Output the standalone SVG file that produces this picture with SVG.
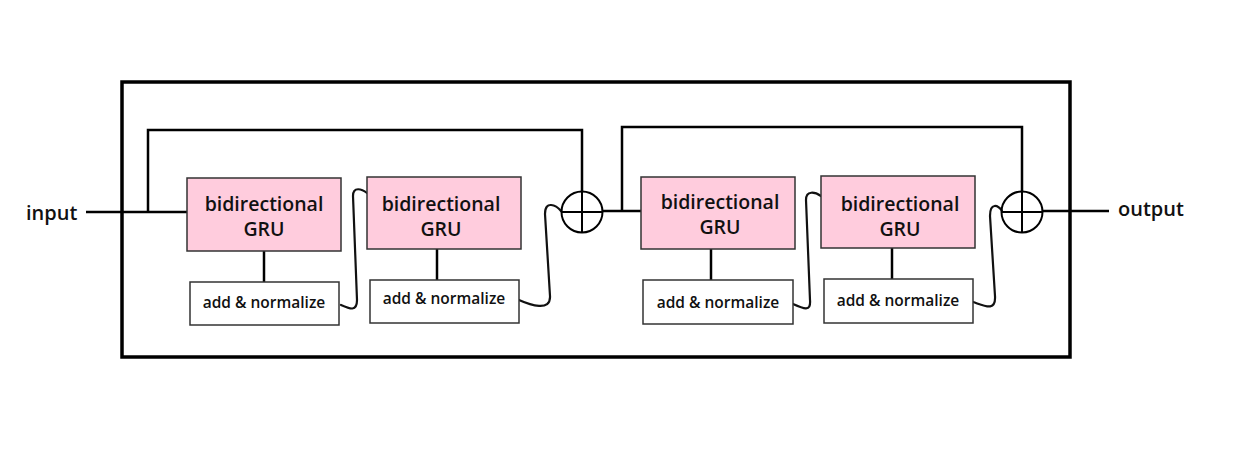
<svg xmlns="http://www.w3.org/2000/svg" width="1237" height="470" viewBox="0 0 1237 470">
<style>
.gru{fill:#ffccdd;stroke:#333;stroke-width:1.5}
.an{fill:#fff;stroke:#333;stroke-width:1.5}
.ln{fill:none;stroke:#000;stroke-width:2.5}
.wv{fill:none;stroke:#111;stroke-width:2.2;stroke-linecap:round}
.sum{fill:none;stroke:#000;stroke-width:2}
.t1{font-family:"Open Sans","Noto Sans",sans-serif;font-weight:600;font-size:19.5px;fill:#111;text-anchor:middle}
.t2{font-family:"Open Sans","Noto Sans",sans-serif;font-weight:600;font-size:15.5px;fill:#111;text-anchor:middle}
.lab{font-family:"Open Sans","Noto Sans",sans-serif;font-weight:600;font-size:20px;fill:#111}
</style>
<rect width="1237" height="470" fill="#fff"/>
<rect id="outer" x="122" y="82" width="948" height="275" fill="none" stroke="#000" stroke-width="3.5"/>
<g id="connectors">
<path class="ln" d="M86 212 H187"/>
<path class="ln" d="M148 212 V130 H582 V191"/>
<path class="ln" d="M264 251 V282"/>
<path class="ln" d="M437 249 V280"/>
<path class="wv" d="M341 305 C350 309 357 312 357 300 L353 196 C353 186 362 189 367 193"/>
<path class="wv" d="M519 300 C530 305 551 312 550 296 L545 214 C545 200 556 205 561 211"/>
<path class="ln" d="M603 211 H641"/>
<path class="ln" d="M622 211 V127 H1022 V191"/>
<path class="ln" d="M711 249 V280"/>
<path class="ln" d="M892 248 V279"/>
<path class="wv" d="M793 304 C804 309 811 312 810 300 L806 200 C806 190 815 192 821 196"/>
<path class="wv" d="M973 302 C985 306 996 312 995 296 L990 216 C990 202 998 205 1002 211"/>
<path class="ln" d="M1043 211 H1109"/>
</g>
<g id="sum1"><circle class="sum" cx="582" cy="212" r="20.5"/><path class="sum" d="M561.5 212 H602.5 M582 191.5 V232.5"/></g>
<g id="sum2"><circle class="sum" cx="1022" cy="212" r="20.5"/><path class="sum" d="M1001.5 212 H1042.5 M1022 191.5 V232.5"/></g>
<g id="gru1"><rect class="gru" x="187" y="178" width="154" height="73"/><text class="t1" x="264" y="211">bidirectional</text><text class="t1" x="264" y="236">GRU</text></g>
<g id="an1"><rect class="an" x="190" y="282" width="149" height="43"/><text class="t2" x="264" y="308">add &amp; normalize</text></g>
<g id="gru2"><rect class="gru" x="367" y="177" width="154" height="72"/><text class="t1" x="441" y="211">bidirectional</text><text class="t1" x="441" y="236">GRU</text></g>
<g id="an2"><rect class="an" x="370" y="280" width="149" height="43"/><text class="t2" x="444" y="304">add &amp; normalize</text></g>
<g id="gru3"><rect class="gru" x="641" y="177" width="154" height="72"/><text class="t1" x="720" y="209">bidirectional</text><text class="t1" x="720" y="234">GRU</text></g>
<g id="an3"><rect class="an" x="643" y="280" width="150" height="44"/><text class="t2" x="718" y="308">add &amp; normalize</text></g>
<g id="gru4"><rect class="gru" x="821" y="176" width="154" height="72"/><text class="t1" x="900" y="211">bidirectional</text><text class="t1" x="900" y="236">GRU</text></g>
<g id="an4"><rect class="an" x="824" y="279" width="149" height="44"/><text class="t2" x="898" y="306">add &amp; normalize</text></g>
<g id="input"><text class="lab" x="26" y="220">input</text></g>
<g id="output"><text class="lab" x="1118" y="216">output</text></g>
</svg>
